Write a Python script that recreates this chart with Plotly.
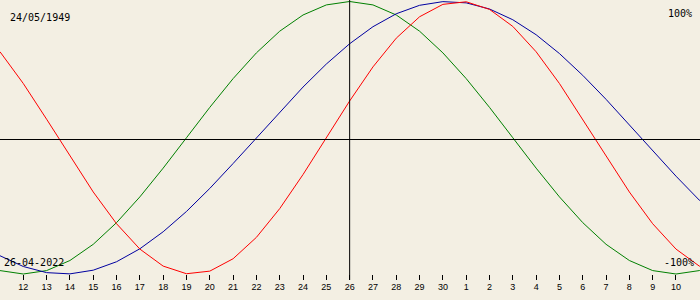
import plotly.graph_objects as go

# Day positions (index 0 = 12 April), from 11 April to 12 May
days = list(range(-1, 31))
tick_vals = list(range(0, 29))
tick_labels = [str(d) for d in range(12, 31)] + [str(d) for d in range(1, 11)]

physical = [0.631, 0.398, 0.136, -0.136, -0.398, -0.631, -0.817, -0.942, -0.998, -0.979,
            -0.888, -0.731, -0.520, -0.270, 0.0, 0.270, 0.520, 0.731, 0.888, 0.979,
            0.998, 0.942, 0.817, 0.631, 0.398, 0.136, -0.136, -0.398, -0.631, -0.817,
            -0.942, -0.998]
emotional = [-0.975, -1.0, -0.975, -0.901, -0.782, -0.623, -0.434, -0.223, 0.0, 0.223,
             0.434, 0.623, 0.782, 0.901, 0.975, 1.0, 0.975, 0.901, 0.782, 0.623,
             0.434, 0.223, 0.0, -0.223, -0.434, -0.623, -0.782, -0.901, -0.975, -1.0,
             -0.975, -0.901]
intellectual = [-0.866, -0.945, -0.990, -0.999, -0.972, -0.910, -0.815, -0.690, -0.541, -0.372,
                -0.189, 0.0, 0.189, 0.372, 0.541, 0.690, 0.815, 0.910, 0.972, 0.999,
                0.990, 0.945, 0.866, 0.756, 0.618, 0.458, 0.282, 0.095, -0.095, -0.282,
                -0.458, -0.618]

birth_label = "24/05/1949"
date_label = "26-04-2022"
top_label = "100%"
bottom_label = "-100%"
today_index = 14

bg = "#F3EFE3"
fig = go.Figure()
fig.add_trace(go.Scatter(x=days, y=emotional, mode="lines", line=dict(color="#008000", width=1)))
fig.add_trace(go.Scatter(x=days, y=intellectual, mode="lines", line=dict(color="#0000A0", width=1)))
fig.add_trace(go.Scatter(x=days, y=physical, mode="lines", line=dict(color="#FF0000", width=1)))

H = 280.0
def py(p):
    return 1 - p / H

fig.add_shape(type="line", xref="paper", yref="paper", x0=0, x1=1, y0=py(139.5), y1=py(139.5),
              line=dict(color="black", width=1))
fig.add_shape(type="line", xref="x", yref="paper", x0=today_index, x1=today_index, y0=0, y1=1,
              line=dict(color="black", width=1))

mono = dict(family="DejaVu Sans Mono", size=10, color="black")
fig.add_annotation(x=8 / 700, y=py(17), xref="paper", yref="paper", text=birth_label,
                   showarrow=False, xanchor="left", yanchor="middle", font=mono)
fig.add_annotation(x=694 / 700, y=py(13), xref="paper", yref="paper", text=top_label,
                   showarrow=False, xanchor="right", yanchor="middle", font=mono)
fig.add_annotation(x=2 / 700, y=py(262), xref="paper", yref="paper", text=date_label,
                   showarrow=False, xanchor="left", yanchor="middle", font=mono)
fig.add_annotation(x=696 / 700, y=py(262), xref="paper", yref="paper", text=bottom_label,
                   showarrow=False, xanchor="right", yanchor="middle", font=mono)

fig.update_layout(
    width=700, height=300,
    margin=dict(l=0, r=0, t=0, b=20),
    paper_bgcolor=bg, plot_bgcolor=bg,
    showlegend=False,
    xaxis=dict(range=[-1, 29.03], tickvals=tick_vals, ticktext=tick_labels,
               ticks="inside", ticklen=5, tickcolor="black", tickwidth=1,
               showgrid=False, zeroline=False, showline=False,
               tickfont=dict(family="Liberation Sans", size=9, color="black")),
    yaxis=dict(range=[(137.75 - 280) / 136.25, 137.75 / 136.25], visible=False,
               showgrid=False, zeroline=False),
)
fig.write_html("out.html")
